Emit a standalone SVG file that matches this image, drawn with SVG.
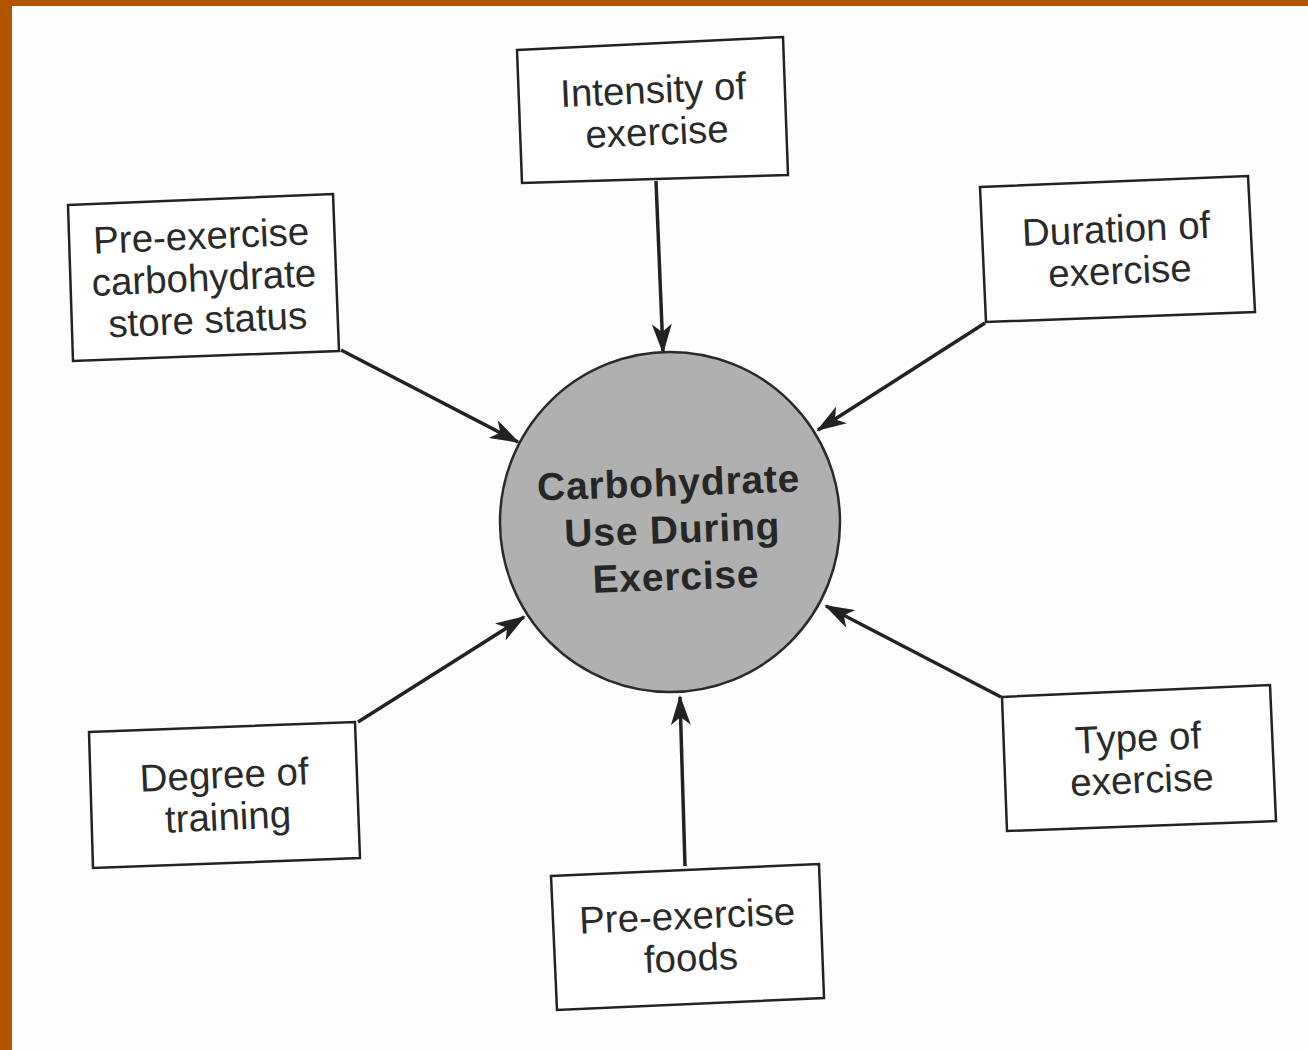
<svg xmlns="http://www.w3.org/2000/svg" width="1308" height="1050" viewBox="0 0 1308 1050">
<defs>
<marker id="ah" viewBox="0 0 30 20" refX="28" refY="10" markerWidth="30" markerHeight="20" markerUnits="userSpaceOnUse" orient="auto">
<path d="M0,0 L30,10 L0,20 L8,10 Z" fill="#222"/>
</marker>
</defs>
<style>
.box{fill:#fff;stroke:#222;stroke-width:2.5}
.t{font-family:"Liberation Sans",Arial,sans-serif;font-size:38.5px;fill:#2a2a2a;text-anchor:middle}
.c{font-family:"Liberation Sans",Arial,sans-serif;font-size:39px;font-weight:bold;fill:#262626;text-anchor:middle;letter-spacing:0.8px}
.ln{stroke:#222;stroke-width:3.5;fill:none;marker-end:url(#ah)}
</style>
<rect x="0" y="0" width="1308" height="1050" fill="#b35400"/>
<rect x="12" y="6" width="1296" height="1044" fill="#fdfdfd"/>
<g id="connectors">
<line class="ln" x1="656" y1="181" x2="663" y2="352"/>
<line class="ln" x1="341" y1="350" x2="518" y2="442"/>
<line class="ln" x1="985" y1="323" x2="818" y2="430"/>
<line class="ln" x1="358" y1="722" x2="524" y2="617"/>
<line class="ln" x1="1001" y1="697" x2="826" y2="606"/>
<line class="ln" x1="685" y1="866" x2="680" y2="697"/>
</g>
<g id="center">
<circle cx="670" cy="522" r="170" fill="#b0b0b0" stroke="#2a2a2a" stroke-width="2.5"/>
<g transform="rotate(-2 670 522)">
<text class="c" x="670" y="496">Carbohydrate</text>
<text class="c" x="672" y="543">Use During</text>
<text class="c" x="674" y="590">Exercise</text>
</g>
</g>
<g id="intensity">
<polygon class="box" points="517,50 783,37 788,175 522,183"/>
<g transform="rotate(-2.5 654 110)">
<text class="t" x="654" y="103">Intensity of</text>
<text class="t" x="656" y="145">exercise</text>
</g>
</g>
<g id="carb-store">
<polygon class="box" points="68,205 333,194 339,351 73,361"/>
<g transform="rotate(-2.5 204 280)">
<text class="t" x="203" y="249">Pre-exercise</text>
<text class="t" x="204" y="291">carbohydrate</text>
<text class="t" x="206" y="333">store status</text>
</g>
</g>
<g id="duration">
<polygon class="box" points="980,187 1248,176 1255,312 986,322"/>
<g transform="rotate(-2.5 1117 250)">
<text class="t" x="1117" y="242">Duration of</text>
<text class="t" x="1119" y="284">exercise</text>
</g>
</g>
<g id="degree">
<polygon class="box" points="89,732 355,722 360,858 93,868"/>
<g transform="rotate(-2.5 225 795)">
<text class="t" x="225" y="788">Degree of</text>
<text class="t" x="227" y="830">training</text>
</g>
</g>
<g id="type">
<polygon class="box" points="1002,697 1270,685 1276,821 1007,831"/>
<g transform="rotate(-2.5 1140 760)">
<text class="t" x="1139" y="751">Type of</text>
<text class="t" x="1141" y="793">exercise</text>
</g>
</g>
<g id="foods">
<polygon class="box" points="551,876 819,864 824,998 557,1010"/>
<g transform="rotate(-2.5 688 937)">
<text class="t" x="688" y="929">Pre-exercise</text>
<text class="t" x="690" y="971">foods</text>
</g>
</g>
</svg>
